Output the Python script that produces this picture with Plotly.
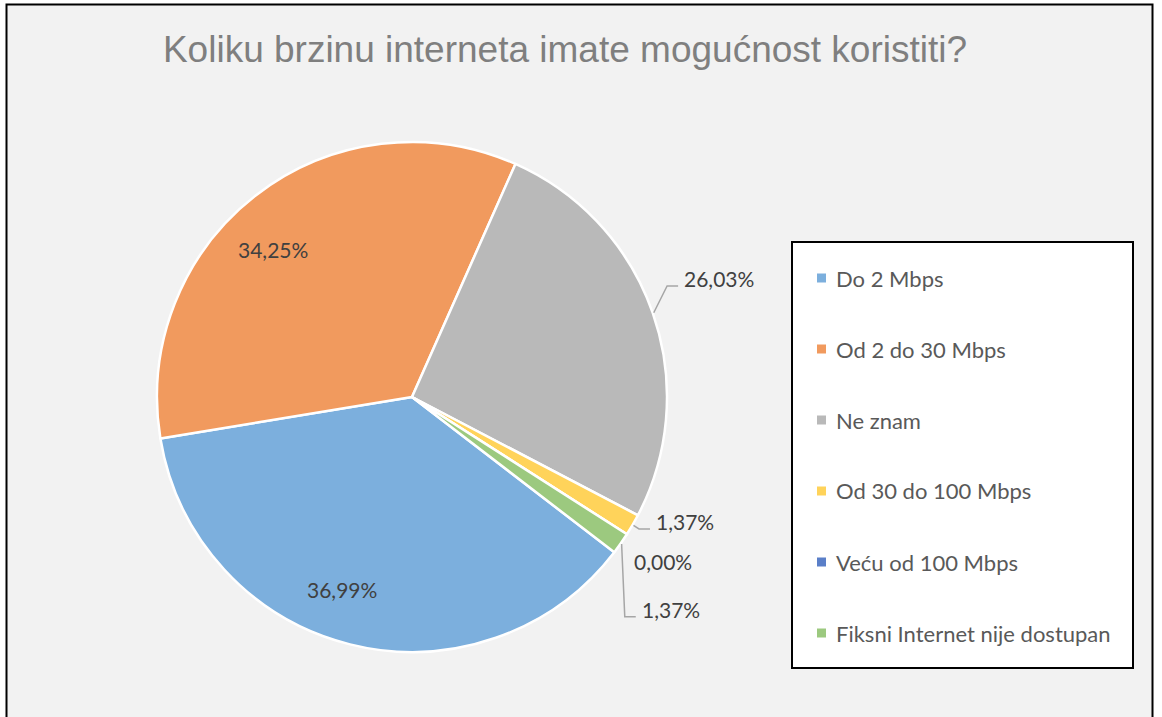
import math
import plotly.graph_objects as go

# ---------------- data ----------------
title_text = "Koliku brzinu interneta imate mogućnost koristiti?"
categories = [
    "Do 2 Mbps",
    "Od 2 do 30 Mbps",
    "Ne znam",
    "Od 30 do 100 Mbps",
    "Veću od 100 Mbps",
    "Fiksni Internet nije dostupan",
]
percentages = [36.99, 34.25, 26.03, 1.37, 0.00, 1.37]

# ---------------- style ----------------
colors = ["#7cafdd", "#f19a5e", "#b9b9b9", "#ffd35a", "#5a7fc8", "#9cc97f"]
W, H = 1162, 717
CX, CY, R = 412, 397, 255          # pie centre / radius in px
ROTATION = 127.5                   # start angle of first slice (clockwise from 12 o'clock)
# label placement: (radius factor, angle offset from slice middle, anchor, leader line)
label_place = [
    (0.802, 5.8, "center", False),
    (0.795, -5.5, "center", False),
    (1.156, -4.4, "left", True),
    (1.068, -2.8, "left", True),
    (1.076, 4.2, "left", False),
    (1.222, 8.0, "left", True),
]
LABEL_FONT = dict(family="Lato, Noto Sans, sans-serif", size=21, color="#404040")
LEGEND_FONT = dict(family="Lato, Noto Sans, sans-serif", size=22, color="#595959")


def to_paper(x, y):
    return x / W, 1 - y / H


def polar(angle_deg, rr):
    a = math.radians(angle_deg)
    return CX + rr * math.sin(a), CY - rr * math.cos(a)


fig = go.Figure()
fig.add_trace(
    go.Pie(
        labels=categories,
        values=percentages,
        sort=False,
        direction="clockwise",
        rotation=ROTATION,
        marker=dict(colors=colors, line=dict(color="white", width=2.5)),
        textinfo="none",
        hovertemplate="%{label}: %{value:.2f}%<extra></extra>",
        showlegend=False,
        domain=dict(
            x=[(CX - R) / W, (CX + R) / W],
            y=[1 - (CY + R) / H, 1 - (CY - R) / H],
        ),
    )
)

shapes = []
annotations = []

# outer chart frame
shapes.append(
    dict(
        type="rect", xref="paper", yref="paper",
        x0=6.5 / W, x1=1152.5 / W, y0=-0.05, y1=1 - 4.5 / H,
        fillcolor="#f2f2f2", line=dict(color="black", width=2), layer="below",
    )
)

# data labels computed from slice angles
total = sum(percentages)
start = ROTATION
for i, v in enumerate(percentages):
    span = v / total * 360
    mid = start + span / 2
    start += span
    rf, off, anchor, leader = label_place[i]
    lx, ly = polar(mid + off, rf * R)
    px, py = to_paper(lx, ly)
    txt = f"{v:.2f}%".replace(".", ",")
    annotations.append(
        dict(
            x=px, y=py, xref="paper", yref="paper", text=txt, showarrow=False,
            xanchor=anchor, yanchor="middle", font=LABEL_FONT,
        )
    )
    if leader:
        sx, sy = polar(mid, R + 1)
        ex, ey = lx - 4, ly + 7
        bx, by = ex - 11, ey
        pts = [to_paper(sx, sy), to_paper(bx, by), to_paper(ex, ey)]
        path = "M {:.5f},{:.5f} L {:.5f},{:.5f} L {:.5f},{:.5f}".format(
            pts[0][0], pts[0][1], pts[1][0], pts[1][1], pts[2][0], pts[2][1]
        )
        shapes.append(
            dict(type="path", xref="paper", yref="paper", path=path,
                 line=dict(color="#a6a6a6", width=1.5))
        )

# legend box
LX0, LX1, LY0, LY1 = 792, 1133, 242, 668
x0, y0 = to_paper(LX0, LY1)
x1, y1 = to_paper(LX1, LY0)
shapes.append(
    dict(type="rect", xref="paper", yref="paper", x0=x0, x1=x1, y0=y0, y1=y1,
         fillcolor="white", line=dict(color="black", width=2))
)
ITEM_Y0, ITEM_STEP, MARK_X, MARK_S, TEXT_X = 278, 71, 817, 9, 834
for i, name in enumerate(categories):
    yc = ITEM_Y0 + i * ITEM_STEP
    mx0, my0 = to_paper(MARK_X, yc + MARK_S / 2)
    mx1, my1 = to_paper(MARK_X + MARK_S, yc - MARK_S / 2)
    shapes.append(
        dict(type="rect", xref="paper", yref="paper", x0=mx0, x1=mx1, y0=my0, y1=my1,
             fillcolor=colors[i], line=dict(width=0))
    )
    tx, ty = to_paper(TEXT_X, yc)
    annotations.append(
        dict(x=tx, y=ty, xref="paper", yref="paper", text=name, showarrow=False,
             xanchor="left", yanchor="middle", font=LEGEND_FONT)
    )

fig.update_layout(
    width=W,
    height=H,
    margin=dict(l=0, r=0, t=0, b=0),
    paper_bgcolor="white",
    plot_bgcolor="white",
    title=dict(
        text=title_text,
        x=565 / W, xanchor="center",
        y=1 - 49 / H, yanchor="middle",
        font=dict(family="Liberation Sans, Arial, sans-serif", size=37, color="#7f7f7f"),
    ),
    shapes=shapes,
    annotations=annotations,
    showlegend=False,
)

fig.write_html(
    "out.html",
    config={"displayModeBar": False},
    post_script="document.body.style.margin='0';document.body.style.overflow='hidden';",
)
